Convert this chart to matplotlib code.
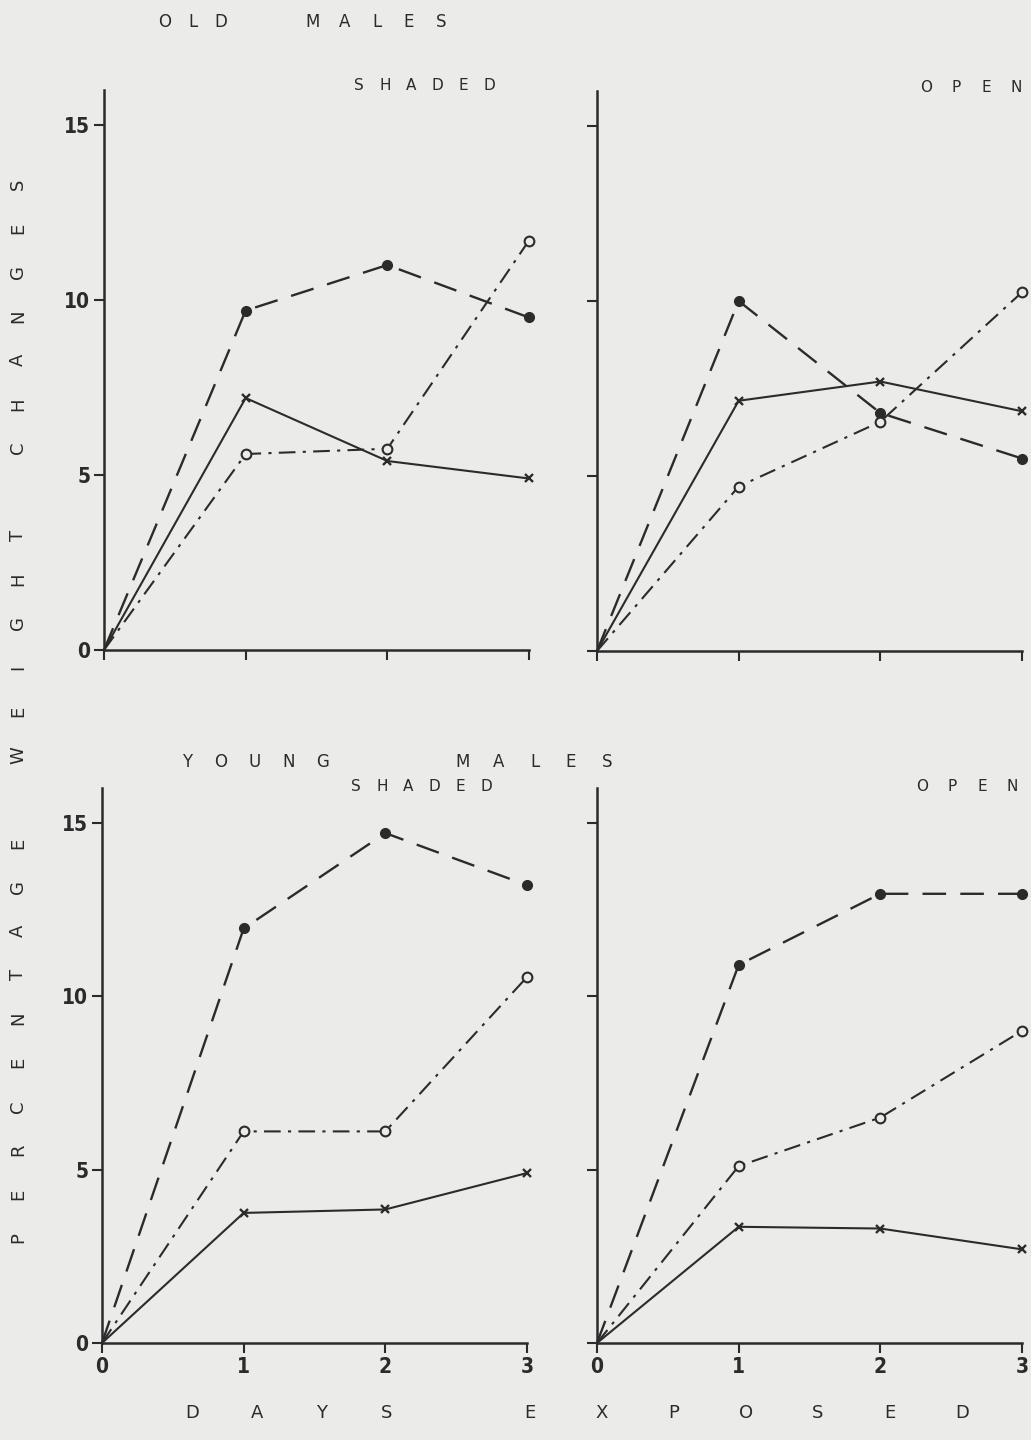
import matplotlib
matplotlib.use("Agg")
import matplotlib.pyplot as plt

# days of exposure
dias = [0, 1, 2, 3]

# old males, shaded site
viejos_sombra_punto = [0, 9.7, 11.0, 9.5]
viejos_sombra_circulo = [0, 5.6, 5.75, 11.7]
viejos_sombra_cruz = [0, 7.2, 5.4, 4.9]

# old males, open site
viejos_abierto_punto = [0, 10.0, 6.8, 5.5]
viejos_abierto_circulo = [0, 4.7, 6.55, 10.25]
viejos_abierto_cruz = [0, 7.15, 7.7, 6.85]

# young males, shaded site
jovenes_sombra_punto = [0, 11.95, 14.7, 13.2]
jovenes_sombra_circulo = [0, 6.1, 6.1, 10.55]
jovenes_sombra_cruz = [0, 3.75, 3.85, 4.9]

# young males, open site
jovenes_abierto_punto = [0, 10.9, 12.95, 12.95]
jovenes_abierto_circulo = [0, 5.1, 6.5, 9.0]
jovenes_abierto_cruz = [0, 3.35, 3.3, 2.7]

ticks_y = [0, 5, 10, 15]
etiquetas_y = ["0", "5", "10", "15"]
etiquetas_x = ["0", "1", "2", "3"]

papel = "#ebebe9"
tinta = "#2b2b2b"
fuente = {"family": "DejaVu Sans", "fontweight": "bold", "fontstretch": "condensed"}

fig = plt.figure(figsize=(10.31, 14.4), dpi=100, facecolor=papel)


def panel(rect, punto, circulo, cruz, con_y, con_x):
    ax = fig.add_axes(rect)
    ax.set_facecolor(papel)
    ax.plot(dias, punto, color=tinta, lw=1.7, ls=(0, (10, 6)), marker="o", ms=7,
            mfc=tinta, mec=tinta, markevery=[1, 2, 3], clip_on=False)
    ax.plot(dias, circulo, color=tinta, lw=1.5, ls=(0, (8, 3.5, 1.5, 3.5)), marker="o", ms=7,
            mfc=papel, mec=tinta, mew=1.5, markevery=[1, 2, 3], clip_on=False)
    ax.plot(dias, cruz, color=tinta, lw=1.5, ls="-", marker="x", ms=5.5, mew=1.7,
            mec=tinta, markevery=[1, 2, 3], clip_on=False)
    ax.set_xlim(0, 3)
    ax.set_ylim(0, 16)
    for lado in ["top", "right"]:
        ax.spines[lado].set_visible(False)
    for lado in ["left", "bottom"]:
        ax.spines[lado].set_color(tinta)
        ax.spines[lado].set_linewidth(1.8)
    ax.set_yticks(ticks_y)
    ax.set_xticks(dias)
    ax.tick_params(direction="out", length=7, width=1.5, color=tinta, pad=3)
    if con_y:
        ax.set_yticklabels(etiquetas_y, fontsize=15, color=tinta, **fuente)
    else:
        ax.set_yticklabels([])
    if con_x:
        ax.set_xticklabels(etiquetas_x, fontsize=15, color=tinta, **fuente)
    else:
        ax.set_xticklabels([])
    return ax


alto_sup = 560 / 1440
alto_inf = 555 / 1440
panel([104 / 1031, 1 - 650 / 1440, 425 / 1031, alto_sup],
      viejos_sombra_punto, viejos_sombra_circulo, viejos_sombra_cruz, True, False)
panel([597 / 1031, 1 - 651 / 1440, 425 / 1031, alto_sup],
      viejos_abierto_punto, viejos_abierto_circulo, viejos_abierto_cruz, False, False)
panel([102 / 1031, 1 - 1343 / 1440, 425 / 1031, alto_inf],
      jovenes_sombra_punto, jovenes_sombra_circulo, jovenes_sombra_cruz, True, True)
panel([597 / 1031, 1 - 1343 / 1440, 425 / 1031, alto_inf],
      jovenes_abierto_punto, jovenes_abierto_circulo, jovenes_abierto_cruz, False, True)


def espaciado(x0, y, palabra, paso, size=12, vertical=False):
    # letters set one by one, like lettering on a drawn figure
    for i, letra in enumerate(palabra):
        if letra == " ":
            continue
        if vertical:
            px, py, rot = x0, y - i * paso, 90
        else:
            px, py, rot = x0 + i * paso, y, 0
        fig.text(px / 1031, 1 - py / 1440, letra, fontsize=size, color=tinta,
                 family="DejaVu Sans", ha="center", va="center", rotation=rot)


# group titles and site names
espaciado(165, 22, "OLD", 28)
espaciado(313, 22, "MALES", 32)
espaciado(359, 86, "SHADED", 26, size=11)
espaciado(926, 88, "OPEN", 30, size=11)
espaciado(187, 762, "YOUNG", 34)
espaciado(463, 762, "MALES", 36)
espaciado(356, 787, "SHADED", 26, size=11)
espaciado(922, 787, "OPEN", 30, size=11)

# shared axis titles
espaciado(192, 1413, "DAYS", 65, size=13)
espaciado(530, 1413, "EXPOSED", 72, size=13)
espaciado(18, 1238, "PERCENTAGE WEIGHT CHANGES", 43.9, size=13, vertical=True)

fig.savefig("out.png", dpi=100, facecolor=papel)
